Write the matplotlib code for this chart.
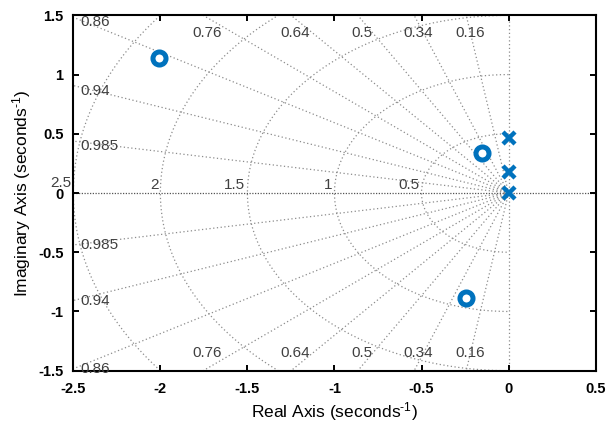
import numpy as np
import matplotlib
matplotlib.use("Agg")
import matplotlib.pyplot as plt

plt.rcParams['font.family'] = ['Liberation Sans', 'DejaVu Sans']
plt.rcParams['mathtext.fontset'] = 'custom'
plt.rcParams['mathtext.rm'] = 'Liberation Sans'
plt.rcParams['mathtext.it'] = 'Liberation Sans:italic'
plt.rcParams['mathtext.bf'] = 'Liberation Sans:bold'

# Data
zero_re = [-2.006, -0.155, -0.246]
zero_im = [1.142, 0.335, -0.889]
pole_re = [0.0, 0.0, 0.0]
pole_im = [0.461, 0.180, 0.0]
zeta_vals = [0.16, 0.34, 0.5, 0.64, 0.76, 0.86, 0.94, 0.985]
zeta_labels = ['0.16', '0.34', '0.5', '0.64', '0.76', '0.86', '0.94', '0.985']
wn_vals = [0.5, 1.0, 1.5, 2.0, 2.5]
wn_labels = ['0.5', '1', '1.5', '2', '2.5']
xticks = [-2.5, -2, -1.5, -1, -0.5, 0, 0.5]
xtick_labels = ['-2.5', '-2', '-1.5', '-1', '-0.5', '0', '0.5']
yticks = [-1.5, -1, -0.5, 0, 0.5, 1, 1.5]
ytick_labels = ['-1.5', '-1', '-0.5', '0', '0.5', '1', '1.5']

xlim = (-2.5, 0.5)
ylim = (-1.5, 1.5)

fig = plt.figure(figsize=(6.09, 4.26), dpi=100)
ax = fig.add_axes([0.1204, 0.1298, 0.978 - 0.1204, 0.964 - 0.1298])
ax.set_xlim(*xlim)
ax.set_ylim(*ylim)

grid_col = '#8c8c8c'
dot = (0, (1, 2))
gkw = dict(color=grid_col, lw=0.9, linestyle=dot, zorder=1)

# damping rays
for z in zeta_vals:
    th = np.arccos(z)
    R = 10
    for s in (1, -1):
        ax.plot([0, -R * np.cos(th)], [0, s * R * np.sin(th)], **gkw)
# natural frequency arcs
t = np.linspace(np.pi / 2, 3 * np.pi / 2, 400)
for w in wn_vals:
    ax.plot(w * np.cos(t), w * np.sin(t), **gkw)
# axes lines
ax.plot([xlim[0], xlim[1]], [0, 0], color='#555555', lw=0.9, linestyle=(0, (1, 1.2)), zorder=1)
ax.plot([0, 0], [ylim[0], ylim[1]], color=grid_col, lw=0.9, linestyle=dot, zorder=1)

lab_col = '#404040'
fs_lab = 11
# zeta labels
for z, lab in zip(zeta_vals, zeta_labels):
    th = np.arccos(z)
    tan = np.tan(th)
    yedge = -xlim[0] * tan
    if yedge <= ylim[1]:
        # hits left edge
        for s in (1, -1):
            yy = s * yedge
            ax.annotate(lab, xy=(xlim[0], yy), xytext=(7, -5 if s > 0 else 0),
                        textcoords='offset pixels', ha='left', va='center',
                        fontsize=fs_lab, color=lab_col, annotation_clip=False)
    else:
        xx = -ylim[1] / tan
        for s in (1, -1):
            ax.annotate(lab, xy=(xx, s * ylim[1]), xytext=(4, -18 if s > 0 else 18),
                        textcoords='offset pixels', ha='center', va='center',
                        fontsize=fs_lab, color=lab_col)
# wn labels
for w, lab in zip(wn_vals, wn_labels):
    dy = 3 if w >= xlim[1] - xlim[0] - 0.5 else 1
    ax.annotate(lab, xy=(-w, 0), xytext=(-2, dy), textcoords='offset pixels',
                ha='right', va='bottom', fontsize=fs_lab, color=lab_col,
                annotation_clip=False)

blue = '#0072BD'
ax.plot(zero_re, zero_im, linestyle='none', marker='o', ms=9.4, mew=3.6,
        mec=blue, mfc='none', zorder=5, clip_on=False)
ax.plot(pole_re, pole_im, linestyle='none', marker='x', ms=8.5, mew=3.2,
        mec=blue, zorder=5, clip_on=False)

ax.set_xticks(xticks)
ax.set_xticklabels(xtick_labels, fontweight='bold', fontsize=10.5)
ax.set_yticks(yticks)
ax.set_yticklabels(ytick_labels, fontweight='bold', fontsize=10.5)
ax.tick_params(direction='in', length=4, width=1.4, top=True, right=True)
ax.tick_params(axis='x', pad=8)
ax.tick_params(axis='y', pad=7)
for sp in ax.spines.values():
    sp.set_linewidth(1.5)

ax.set_xlabel('Real Axis (seconds$^{\\mathrm{\u2010}1}$)', fontsize=12.5, labelpad=3)
ax.set_ylabel('Imaginary Axis (seconds$^{\\mathrm{\u2010}1}$)', fontsize=12.5, labelpad=4)

fig.savefig('out.png', dpi=100)
